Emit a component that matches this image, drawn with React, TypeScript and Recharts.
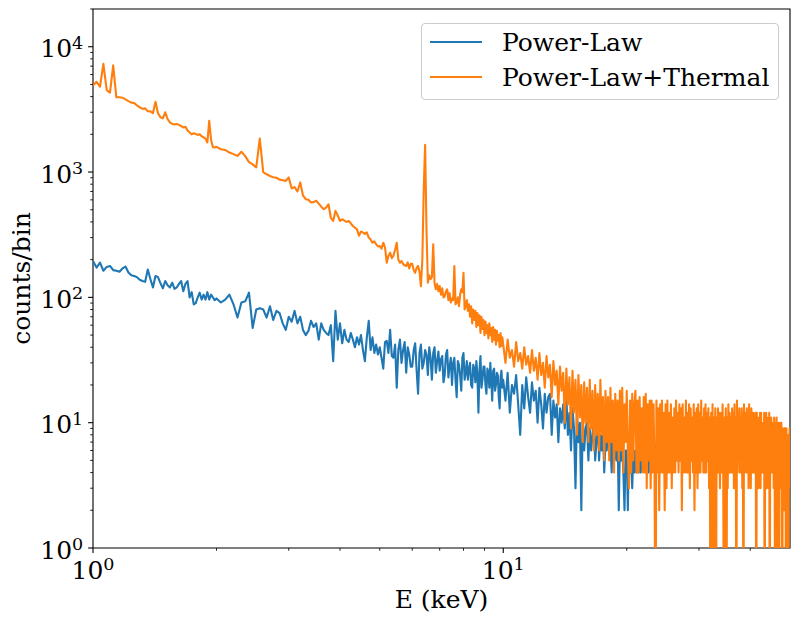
import React from 'react';
import { LineChart, Line, XAxis, YAxis, Legend, ReferenceArea } from 'recharts';

// energy channels (keV): finer binning at low energy
const channels = (start: number, step: number, count: number) =>
  Array.from({ length: count }, (_, i) => Math.round((start + i * step) * 1000) / 1000);

const energyLow = channels(1.0, 0.02, 50); // 1.00 - 1.98
const energyMid = channels(2.0, 0.05, 60); // 2.00 - 4.95
const energyHigh = channels(5.0, 0.05, 100); // 5.00 - 9.95
const energyHard = channels(10.0, 0.125, 321); // 10 - 50, one row per keV below

// Power-Law counts/bin
const plLow = [
  195, 173, 189, 163, 175, 178, 165, 163, 160, 170,
  176, 158, 150, 148, 145, 138, 135, 133, 167, 140,
  120, 148, 145, 130, 118, 135, 125, 120, 131, 117,
  120, 128, 135, 112, 128, 135, 100, 110, 88, 90,
  100, 109, 96, 105, 96, 110, 96, 105, 100, 95,
];
const plMid = [
  98, 91, 96, 105, 88, 69, 91, 93, 109, 57,
  80, 82, 80, 69, 85, 66, 78, 75, 62, 55,
  70, 64, 78, 62, 70, 55, 50, 54, 65, 58,
  62, 46, 62, 55, 52, 50, 60, 31, 78, 46,
  62, 43, 55, 46, 44, 52, 46, 40, 48, 42,
  50, 38, 31, 48, 65, 38, 48, 36, 42, 35,
];
const plHigh = [
  40, 33, 27, 44, 45, 36, 55, 34, 33, 42,
  19, 38, 46, 30, 38, 44, 25, 40, 35, 28,
  28, 38, 43, 26, 17, 36, 42, 27, 30, 38,
  35, 24, 40, 33, 22, 36, 40, 25, 31, 37,
  26, 32, 34, 21, 24, 35, 38, 23, 28, 33,
  20, 30, 33, 22, 16, 31, 29, 24, 18, 33,
  36, 22, 25, 31, 22, 27, 30, 20, 19, 29,
  27, 21, 31, 24, 12, 26, 34, 19, 22, 28,
  28, 20, 17, 27, 25, 19, 30, 22, 15, 26,
  27, 18, 20, 25, 24, 16, 13, 23, 26, 19,
];
const plHard = [
  22, 15, 25, 12, 20, 17, 24, 14,
  8, 20, 13, 23, 16, 12, 21, 15,
  18, 10, 19, 14, 9, 17, 12, 16,
  17, 8, 15, 11, 14, 7, 13, 10,
  14, 9, 16, 8, 12, 6, 13, 9,
  3, 12, 7, 10, 2, 11, 6, 9,
  10, 5, 9, 6, 8, 11, 5, 7,
  11, 5, 8, 6, 9, 4, 7, 6,
  9, 6, 7, 4, 8, 5, 7, 5,
  8, 2, 7, 5, 6, 4, 2, 6,
  6, 2, 7, 4, 5, 3, 6, 4,
  6, 4, 5, 4, 6, 4, 5, 5,
  6, 5, 5, 6, 5, 4, 6, 5,
  6, 5, 7, 5, 6, 7, 5, 6,
  7, 5, 6, 5, 6, 7, 5, 6,
  5, 7, 6, 5, 6, 7, 5, 6,
  6, 5, 7, 6, 5, 6, 7, 5,
  5, 6, 7, 5, 6, 7, 5, 6,
  6, 5, 6, 7, 5, 6, 5, 7,
  5, 6, 7, 5, 6, 7, 5, 6,
  7, 5, 6, 5, 7, 6, 5, 6,
  5, 6, 7, 5, 6, 5, 7, 6,
  6, 5, 7, 6, 5, 6, 7, 5,
  7, 6, 5, 6, 7, 5, 6, 5,
  5, 7, 6, 5, 6, 7, 5, 6,
  6, 5, 6, 7, 5, 6, 7, 5,
  5, 6, 7, 5, 6, 5, 7, 6,
  6, 5, 7, 6, 5, 7, 5, 6,
  7, 5, 6, 5, 7, 6, 5, 6,
  5, 6, 7, 5, 6, 7, 5, 6,
  6, 5, 6, 7, 5, 6, 7, 5,
  5, 7, 6, 5, 6, 5, 7, 6,
  6, 5, 7, 6, 5, 6, 7, 5,
  5, 6, 7, 5, 6, 7, 5, 6,
  7, 5, 6, 5, 7, 6, 5, 6,
  5, 6, 7, 5, 6, 5, 7, 6,
  6, 5, 7, 6, 5, 6, 7, 5,
  5, 6, 7, 5, 6, 7, 5, 6,
  6, 5, 6, 7, 5, 6, 7, 5,
  5, 7, 6, 5, 6, 5, 7, 6,
  6,
];

// Power-Law+Thermal counts/bin
const ptLow = [
  4900, 5250, 4800, 7300, 4500, 4300, 7100, 3950, 3950, 3920,
  3800, 3680, 3580, 3560, 3400, 3280, 3200, 3220, 3060, 3050,
  2950, 3640, 2950, 2740, 2680, 3000, 2650, 2490, 2420, 2400,
  2420, 2380, 2330, 2270, 2300, 2150, 2070, 2000, 2040, 2010,
  1980, 2000, 1930, 1890, 1850, 1720, 2560, 1800, 1580, 1570,
];
const ptMid = [
  1590, 1520, 1500, 1430, 1390, 1345, 1450, 1340, 1200, 1150,
  1090, 1850, 1000, 960, 930, 910, 900, 870, 860, 850,
  905, 740, 760, 700, 826, 650, 607, 600, 571, 575,
  590, 560, 530, 505, 520, 553, 430, 407, 490, 450,
  407, 420, 410, 400, 407, 390, 371, 360, 349, 310,
  335, 330, 320, 330, 300, 290, 273, 280, 265, 255,
];
const ptHigh = [
  257, 245, 273, 250, 189, 215, 227, 205, 215, 240,
  273, 200, 189, 195, 185, 180, 178, 190, 170, 185,
  185, 165, 157, 172, 178, 160, 123, 200, 730, 1650,
  349, 131, 150, 140, 145, 265, 130, 116, 128, 112,
  123, 105, 118, 100, 102, 112, 116, 95, 108, 91,
  98, 95, 178, 88, 91, 100, 85, 105, 116, 110,
  157, 80, 85, 95, 78, 88, 70, 85, 62, 80,
  66, 78, 58, 75, 60, 72, 52, 70, 56, 66,
  50, 64, 52, 60, 47, 62, 50, 57, 44, 58,
  46, 55, 42, 54, 45, 50, 40, 52, 41, 48,
];
const ptHard = [
  42, 30, 46, 33, 38, 28, 44, 31,
  36, 27, 40, 29, 34, 25, 38, 26,
  33, 22, 36, 24, 30, 19, 34, 23,
  29, 16, 31, 20, 26, 14, 28, 18,
  25, 10, 27, 14, 23, 9, 26, 12,
  22, 8, 24, 11, 20, 7, 21, 10,
  19, 7, 22, 9, 18, 6, 20, 8,
  17, 6, 22, 8, 16, 5, 18, 7,
  16, 5, 19, 7, 15, 4, 17, 6,
  15, 5, 18, 6, 19, 4, 14, 7,
  18, 6, 3, 15, 4, 17, 5, 14,
  18, 4, 15, 4, 16, 5, 13, 4,
  16, 4, 17, 3, 14, 5, 15, 3,
  15, 4, 14, 4, 0, 15, 4, 13,
  2, 14, 4, 15, 4, 12, 2, 14,
  3, 15, 4, 12, 4, 14, 3, 11,
  4, 13, 4, 15, 5, 12, 4, 14,
  5, 13, 2, 14, 4, 11, 4, 15,
  4, 12, 4, 14, 3, 13, 5, 11,
  4, 14, 2, 12, 4, 13, 3, 14,
  4, 12, 4, 15, 5, 11, 4, 13,
  4, 14, 4, 12, 5, 13, 3, 11,
  0, 12, 4, 14, 0, 11, 4, 13,
  0, 11, 4, 13, 4, 12, 3, 10,
  12, 4, 14, 4, 0, 11, 4, 13,
  0, 11, 3, 14, 4, 12, 4, 11,
  4, 13, 4, 12, 3, 14, 4, 11,
  0, 15, 4, 12, 5, 13, 4, 11,
  4, 13, 3, 12, 0, 14, 4, 11,
  12, 4, 13, 4, 11, 3, 14, 4,
  11, 3, 13, 4, 12, 4, 12, 4,
  10, 4, 12, 0, 12, 4, 11, 3,
  11, 4, 12, 3, 12, 4, 10, 4,
  10, 4, 12, 0, 11, 4, 12, 3,
  11, 4, 9, 3, 12, 0, 10, 4,
  11, 4, 10, 4, 10, 3, 11, 4,
  0, 10, 4, 11, 0, 9, 4, 10,
  0, 9, 4, 10, 3, 10, 4, 0,
  9, 4, 8, 2, 9, 4, 9, 0,
  9, 4, 8, 4, 0, 8, 3, 9,
  8,
];

const energies = [...energyLow, ...energyMid, ...energyHigh, ...energyHard];
const powerLaw = [...plLow, ...plMid, ...plHigh, ...plHard];
const powerLawThermal = [...ptLow, ...ptMid, ...ptHigh, ...ptHard];

// empty bins can't go on a log axis, push them below the visible range (clipped)
const floor = (v: number) => (v > 0 ? v : 0.1);
const data = energies.map((E, i) => ({
  E,
  pl: floor(powerLaw[i]),
  plth: floor(powerLawThermal[i]),
}));

const xTicks = [1, 2, 3, 4, 5, 6, 7, 8, 9, 10, 20, 30, 40];
const yTicks = [
  1, 2, 3, 4, 5, 6, 7, 8, 9,
  10, 20, 30, 40, 50, 60, 70, 80, 90,
  100, 200, 300, 400, 500, 600, 700, 800, 900,
  1000, 2000, 3000, 4000, 5000, 6000, 7000, 8000, 9000,
  10000, 20000,
];

const series = [
  { key: 'pl', name: 'Power-Law', color: '#1f77b4' },
  { key: 'plth', name: 'Power-Law+Thermal', color: '#ff7f0e' },
];

const FONT = "'DejaVu Serif', serif";

const decade = (v: number) => {
  const k = Math.round(Math.log10(v));
  return Math.abs(v - Math.pow(10, k)) < 1e-6 ? k : null;
};

const XTick = (props: any) => {
  const { x, y, payload } = props;
  const k = decade(payload.value);
  const major = k !== null;
  return (
    <g>
      <line x1={x} x2={x} y1={y} y2={y + (major ? 4.9 : 2.8)} stroke="#000" strokeWidth={major ? 1.1 : 0.85} />
      {major && (
        <text x={x} y={y + 30.5} textAnchor="middle" fontFamily={FONT} fontSize={25} fill="#000">
          10<tspan dy={-8.5} fontSize={17.5}>{k}</tspan>
        </text>
      )}
    </g>
  );
};

const YTick = (props: any) => {
  const { x, y, payload } = props;
  const k = decade(payload.value);
  const major = k !== null;
  return (
    <g>
      <line x1={x} x2={x - (major ? 4.9 : 2.8)} y1={y} y2={y} stroke="#000" strokeWidth={major ? 1.1 : 0.85} />
      {major && (
        <text x={x - 9.8} y={y + 10.6} textAnchor="end" fontFamily={FONT} fontSize={25} fill="#000">
          10<tspan dy={-8.5} fontSize={17.5}>{k}</tspan>
        </text>
      )}
    </g>
  );
};

const LegendBox = () => (
  <div
    style={{
      boxSizing: 'border-box',
      width: 358,
      height: 77,
      border: '1px solid #cccccc',
      borderRadius: 4,
      background: 'rgba(255,255,255,0.8)',
      fontFamily: FONT,
      fontSize: 25,
      color: '#000',
      position: 'relative',
    }}
  >
    {series.map((s, i) => (
      <div
        key={s.key}
        style={{ position: 'absolute', left: 8, top: 0.5 + i * 35.3, height: 35, display: 'flex', alignItems: 'center' }}
      >
        <svg width={52} height={4} style={{ display: 'block' }}>
          <line x1={0} x2={52} y1={2} y2={2} stroke={s.color} strokeWidth={2.1} />
        </svg>
        <span style={{ marginLeft: 20, lineHeight: '35px', whiteSpace: 'nowrap' }}>{s.name}</span>
      </div>
    ))}
  </div>
);

export default function App() {
  return (
    <div style={{ position: 'absolute', left: 0, top: 0 }}>
      <LineChart width={800} height={623} data={data} margin={{ top: 9, right: 10, bottom: 0, left: 0 }}>
        <XAxis
          dataKey="E"
          type="number"
          scale="log"
          domain={[1, 50]}
          allowDataOverflow
          ticks={xTicks}
          interval={0}
          tick={<XTick />}
          tickLine={false}
          axisLine={false}
          tickSize={0}
          tickMargin={0}
          height={75}
          label={(p: any) => (
            <text
              x={p.viewBox.x + p.viewBox.width / 2}
              y={608}
              textAnchor="middle"
              fontFamily={FONT}
              fontSize={25}
              fill="#000"
            >
              E (keV)
            </text>
          )}
        />
        <YAxis
          type="number"
          scale="log"
          domain={[1, 20000]}
          allowDataOverflow
          ticks={yTicks}
          interval={0}
          tick={<YTick />}
          tickLine={false}
          axisLine={false}
          tickSize={0}
          tickMargin={0}
          width={93}
          label={(p: any) => (
            <text
              x={30}
              y={p.viewBox.y + p.viewBox.height / 2}
              transform={`rotate(-90 30 ${p.viewBox.y + p.viewBox.height / 2})`}
              textAnchor="middle"
              fontFamily={FONT}
              fontSize={25}
              fill="#000"
            >
              counts/bin
            </text>
          )}
        />
        {series.map((s) => (
          <Line
            key={s.key}
            type="linear"
            dataKey={s.key}
            name={s.name}
            stroke={s.color}
            strokeWidth={2.1}
            strokeLinejoin="round"
            dot={false}
            activeDot={false}
            isAnimationActive={false}
          />
        ))}
        <ReferenceArea x1={1} x2={50} y1={1} y2={20000} fill="none" stroke="#000" strokeWidth={1.1} />
        <Legend
          layout="vertical"
          align="center"
          verticalAlign="middle"
          wrapperStyle={{ left: 421, top: 23, width: 358, height: 77 }}
          content={() => <LegendBox />}
        />
      </LineChart>
    </div>
  );
}
